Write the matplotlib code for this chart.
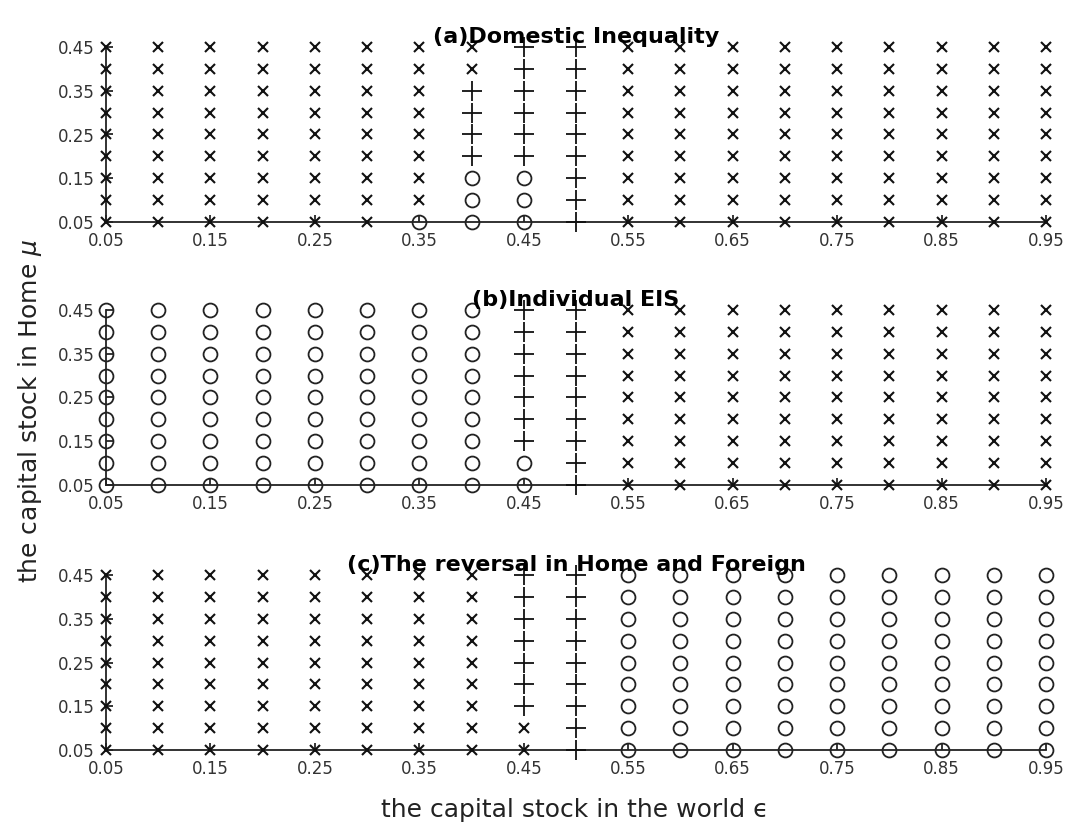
import numpy as np
import matplotlib
matplotlib.use("Agg")
import matplotlib.pyplot as plt

# grid of the capital stock in the world (eps) and in Home (mu)
eps = [0.05, 0.10, 0.15, 0.20, 0.25, 0.30, 0.35, 0.40, 0.45, 0.50,
       0.55, 0.60, 0.65, 0.70, 0.75, 0.80, 0.85, 0.90, 0.95]
mu = [0.45, 0.40, 0.35, 0.30, 0.25, 0.20, 0.15, 0.10, 0.05]  # top row first

eps_ticks = [0.05, 0.15, 0.25, 0.35, 0.45, 0.55, 0.65, 0.75, 0.85, 0.95]
mu_ticks = [0.05, 0.15, 0.25, 0.35, 0.45]

titles = ["(a)Domestic Inequality", "(b)Individual EIS",
          "(c)The reversal in Home and Foreign"]

# one character per grid cell: x, + or o (rows follow mu, columns follow eps)
panel_a = [
    "xxxxxxxx++xxxxxxxxx",
    "xxxxxxxx++xxxxxxxxx",
    "xxxxxxx+++xxxxxxxxx",
    "xxxxxxx+++xxxxxxxxx",
    "xxxxxxx+++xxxxxxxxx",
    "xxxxxxx+++xxxxxxxxx",
    "xxxxxxxoo+xxxxxxxxx",
    "xxxxxxxoo+xxxxxxxxx",
    "xxxxxxooo+xxxxxxxxx",
]
panel_b = [
    "oooooooo++xxxxxxxxx",
    "oooooooo++xxxxxxxxx",
    "oooooooo++xxxxxxxxx",
    "oooooooo++xxxxxxxxx",
    "oooooooo++xxxxxxxxx",
    "oooooooo++xxxxxxxxx",
    "oooooooo++xxxxxxxxx",
    "ooooooooo+xxxxxxxxx",
    "ooooooooo+xxxxxxxxx",
]
panel_c = [
    "xxxxxxxx++ooooooooo",
    "xxxxxxxx++ooooooooo",
    "xxxxxxxx++ooooooooo",
    "xxxxxxxx++ooooooooo",
    "xxxxxxxx++ooooooooo",
    "xxxxxxxx++ooooooooo",
    "xxxxxxxx++ooooooooo",
    "xxxxxxxxx+ooooooooo",
    "xxxxxxxxx+ooooooooo",
]
panels = [panel_a, panel_b, panel_c]

# marker styles
styles = {
    "x": dict(marker="x", ms=6.5, mew=1.5, mec="#111111"),
    "+": dict(marker="+", ms=15, mew=1.3, mec="#111111"),
    "o": dict(marker="o", ms=10, mew=1.3, mec="#222222", mfc="none"),
}

fig = plt.figure(figsize=(10.66, 8.22), dpi=100)

left, width = 106 / 1066, 940 / 1066
tops = [47, 310, 575]
height_px = 175

for grid, title, top in zip(panels, titles, tops):
    bottom = 1 - (top + height_px) / 822
    ax = fig.add_axes([left, bottom, width, height_px / 822])

    for code, st in styles.items():
        xs, ys = [], []
        for r, row in enumerate(grid):
            for c, ch in enumerate(row):
                if ch == code:
                    xs.append(eps[c])
                    ys.append(mu[r])
        ax.plot(xs, ys, ls="none", clip_on=False, zorder=3, **st)

    ax.set_xlim(0.05, 0.95)
    ax.set_ylim(0.05, 0.45)
    ax.set_xticks(eps_ticks)
    ax.set_yticks(mu_ticks)
    ax.set_xticklabels([f"{t:.2f}" for t in eps_ticks])
    ax.set_yticklabels([f"{t:.2f}" for t in mu_ticks])
    ax.tick_params(direction="in", length=5, width=1.1, labelsize=12,
                   labelcolor="#333333")
    ax.tick_params(axis="x", pad=7)
    ax.tick_params(axis="y", pad=8)
    for side in ["top", "right"]:
        ax.spines[side].set_visible(False)
    for side in ["left", "bottom"]:
        ax.spines[side].set_linewidth(1.3)
        ax.spines[side].set_color("#222222")
    ax.set_title(title, fontsize=16, fontweight="bold", pad=1)

fig.text(575 / 1066, 1 - 810 / 822, "the capital stock in the world \u03f5",
         ha="center", va="center", fontsize=18, color="#222222")
fig.text(30 / 1066, 1 - 411 / 822, r"the capital stock in Home $\mu$",
         ha="center", va="center", rotation=90, fontsize=18, color="#222222")

fig.savefig("out.png", dpi=100)
